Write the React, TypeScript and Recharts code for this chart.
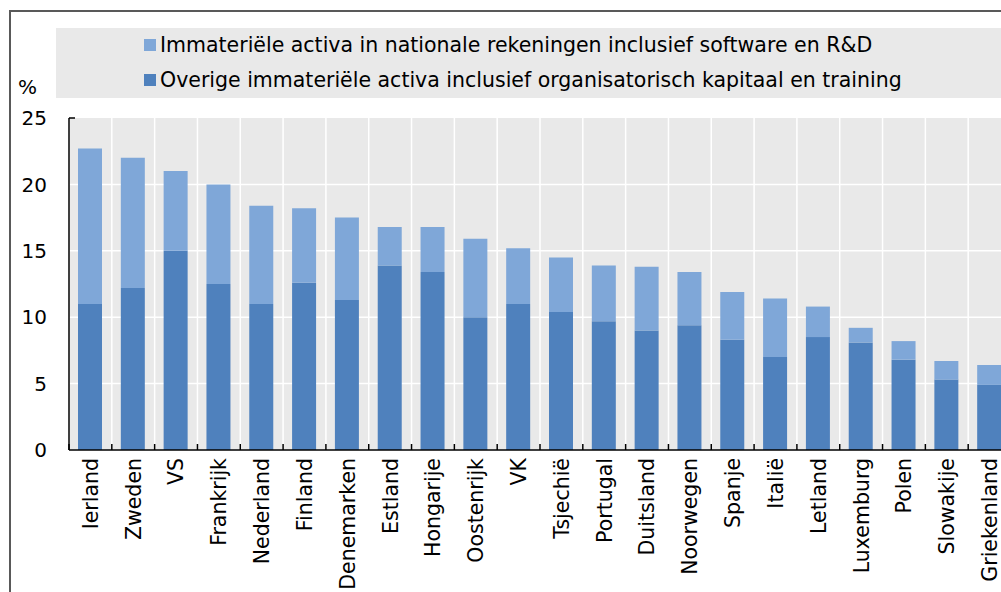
import React from "react"
import { Bar, BarChart, CartesianGrid, XAxis, YAxis } from "recharts"

const landen = [
  "Ierland", "Zweden", "VS", "Frankrijk", "Nederland", "Finland", "Denemarken", "Estland",
  "Hongarije", "Oostenrijk", "VK", "Tsjechië", "Portugal", "Duitsland", "Noorwegen", "Spanje",
  "Italië", "Letland", "Luxemburg", "Polen", "Slowakije", "Griekenland",
]

// overige immateriële activa (onderste deel)
const overige = [11.0, 12.2, 15.0, 12.5, 11.0, 12.6, 11.3, 13.9, 13.4, 10.0, 11.0, 10.4, 9.7, 9.0, 9.4, 8.3, 7.0, 8.5, 8.1, 6.8, 5.3, 4.9]
// immateriële activa in nationale rekeningen (bovenste deel)
const nationaal = [11.7, 9.8, 6.0, 7.5, 7.4, 5.6, 6.2, 2.9, 3.4, 5.9, 4.2, 4.1, 4.2, 4.8, 4.0, 3.6, 4.4, 2.3, 1.1, 1.4, 1.4, 1.5]

const yTicks = [0, 5, 10, 15, 20, 25]

const seriesNames = {
  nationaal: "Immateriële activa in nationale rekeningen inclusief software en R&D",
  overige: "Overige immateriële activa inclusief organisatorisch kapitaal en training",
}

const data = landen.map((land, i) => ({ land, overige: overige[i], nationaal: nationaal[i] }))

const FONT = "'DejaVu Sans', Verdana, sans-serif"
const LIGHT = "#7fa7d8"
const DARK = "#4f81bd"

const XTick = (props: any) => {
  const { x, y, payload } = props
  const half = payload?.offset ?? 21.4
  const axisY = y - 8
  return (
    <g>
      <line x1={x - half} x2={x - half} y1={axisY - 6} y2={axisY} stroke="#000" strokeWidth={1.5} />
      <text x={x} y={y} transform={`rotate(-90, ${x}, ${y})`} textAnchor="end" dy="0.36em" fontSize={20.5} fontFamily={FONT} fill="#000">
        {payload.value}
      </text>
    </g>
  )
}

const YTick = (props: any) => {
  const { x, y, payload } = props
  const axisX = x + 22
  return (
    <g>
      {payload.value === 25 && <line x1={axisX} x2={axisX + 6} y1={y} y2={y} stroke="#000" strokeWidth={1.5} />}
      <text x={x} y={y} textAnchor="end" dy="0.36em" fontSize={20} fontFamily={FONT} fill="#000">
        {payload.value}
      </text>
    </g>
  )
}

const LegendBox = () => (
  <div
    style={{
      position: "absolute", left: 56, top: 28, width: 1000, height: 70, background: "#e9e9e9",
      fontFamily: FONT, fontSize: 20.5, color: "#000",
    }}
  >
    {[{ name: seriesNames.nationaal, color: LIGHT }, { name: seriesNames.overige, color: DARK }].map((it, i) => (
      <div key={i} style={{ position: "absolute", left: 88, top: 5 + i * 35, height: 24, display: "flex", alignItems: "center", whiteSpace: "nowrap" }}>
        <span style={{ display: "inline-block", width: 12, height: 12, background: it.color, marginRight: 4 }} />
        <span>{it.name}</span>
      </div>
    ))}
  </div>
)

export default function App() {
  return (
    <div style={{ position: "fixed", left: 0, top: 0, width: 1001, height: 592, overflow: "hidden", background: "#fff" }}>
      <div style={{ position: "absolute", left: 9, top: 10, width: 1100, height: 700, border: "2px solid #595959" }} />
      <LegendBox />
      <div style={{ position: "absolute", left: 18, top: 75, fontFamily: FONT, fontSize: 20, color: "#000" }}>%</div>
      <div style={{ position: "absolute", left: 0, top: 0 }}>
        <BarChart width={1011} height={592} data={data} margin={{ top: 118, right: 0, bottom: 0, left: 8 }}>
          <CartesianGrid
            fill="#e9e9e9"
            stroke="#fff"
            strokeWidth={1.5}
            horizontalValues={[5, 10, 15, 20]}
            verticalCoordinatesGenerator={({ offset }: any) =>
              landen.map((_, i) => offset.left + (i * offset.width) / landen.length)
            }
          />
          <XAxis
            dataKey="land"
            interval={0}
            height={142}
            tickLine={false}
            tickSize={6}
            tickMargin={2}
            axisLine={{ stroke: "#000", strokeWidth: 1.5 }}
            tick={<XTick />}
          />
          <YAxis
            domain={[0, 25]}
            ticks={yTicks}
            width={61}
            tickLine={false}
            tickSize={6}
            tickMargin={16}
            axisLine={{ stroke: "#000", strokeWidth: 1.5 }}
            tick={<YTick />}
          />
          <Bar dataKey="overige" name={seriesNames.overige} stackId="a" fill={DARK} barSize={24} isAnimationActive={false} />
          <Bar dataKey="nationaal" name={seriesNames.nationaal} stackId="a" fill={LIGHT} barSize={24} isAnimationActive={false} />
        </BarChart>
      </div>
    </div>
  )
}
